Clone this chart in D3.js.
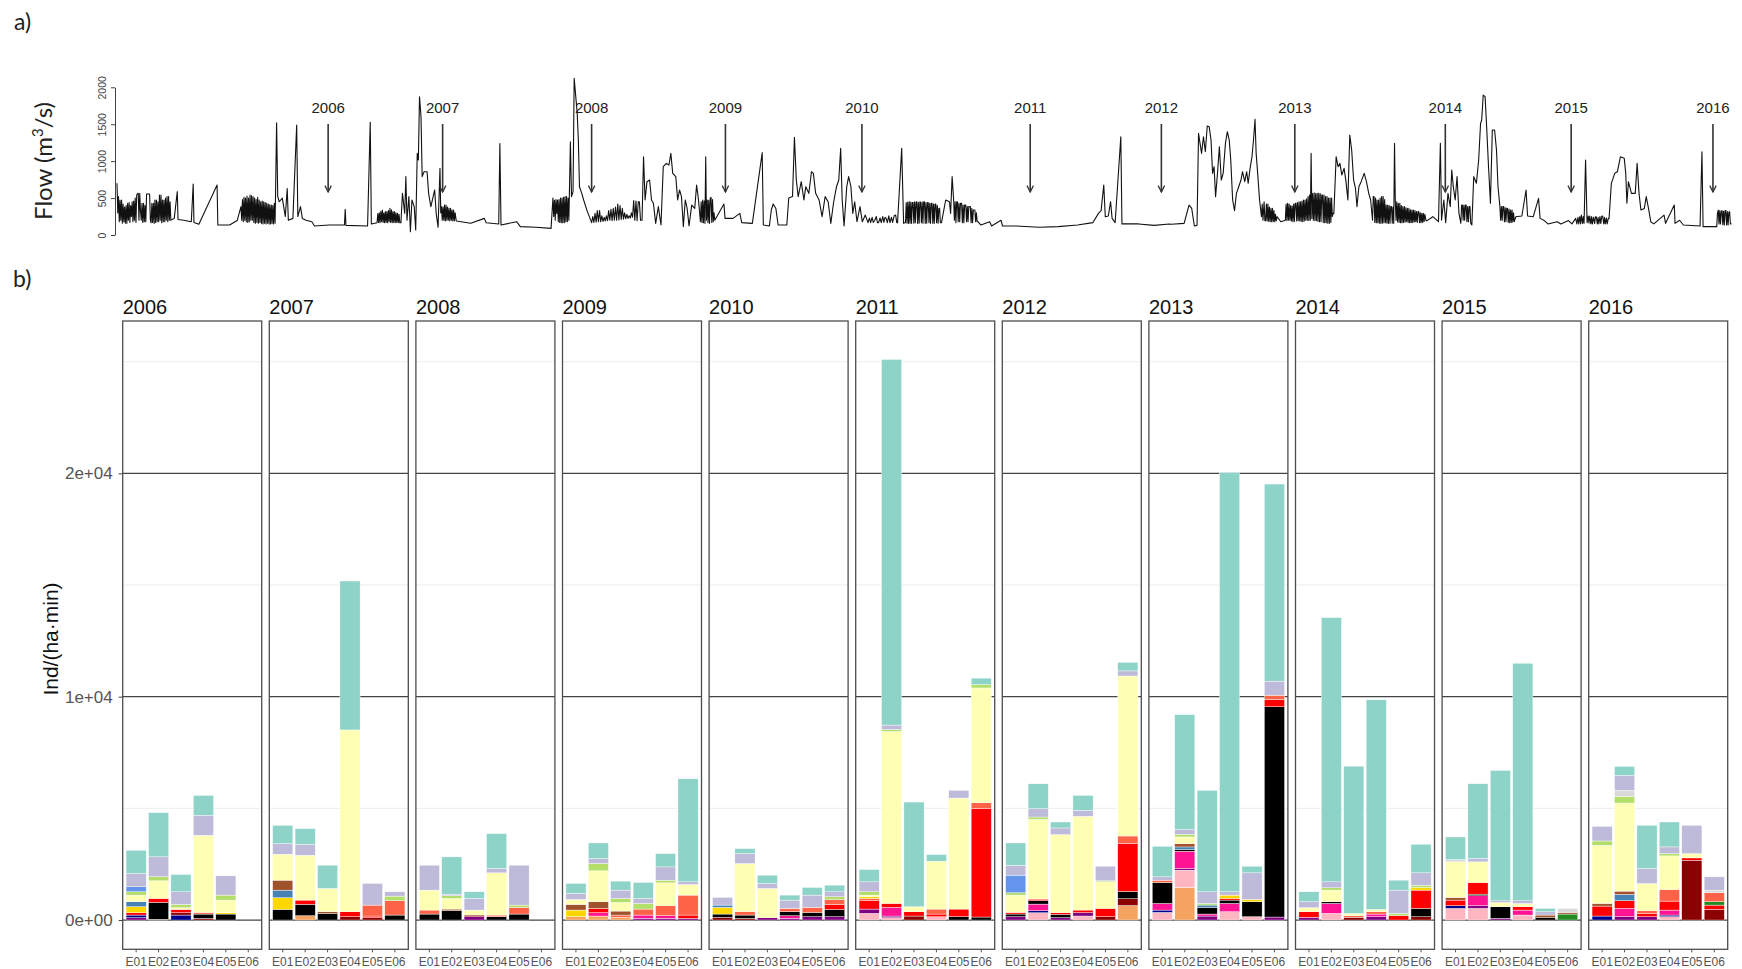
<!DOCTYPE html>
<html>
<head>
<meta charset="utf-8">
<script src="https://cdn.jsdelivr.net/npm/d3@7"></script>
<style>
body { margin: 0; background: #fff; }
svg { display: block; font-family: "Liberation Sans", Arial, sans-serif; }
</style>
</head>
<body>
<svg id="chart" width="1742" height="969"></svg>
<script>
// ---- data ----
var years = ["2006", "2007", "2008", "2009", "2010", "2011", "2012", "2013", "2014", "2015", "2016"];
var stations = ["E01", "E02", "E03", "E04", "E05", "E06"];

// stacking order, top of the bar first
var speciesOrder = ["tq", "lv", "gy", "cb", "lg", "yl", "br", "sb", "gd", "sl", "gn", "rd", "bk", "dr", "dp", "nv", "pu", "pk", "sa"];
var speciesColor = {
    tq: "#8DD3C7", lv: "#BEBADA", gy: "#D9D9D9", cb: "#6495ED", lg: "#B3DE69", yl: "#FFFFB3",
    br: "#A0522D", sb: "#4682B4", gd: "#FFD700", sl: "#FF6347", gn: "#228B22", rd: "#FF0000",
    bk: "#000000", dr: "#8B0000", dp: "#FF1493", nv: "#00008B", pu: "#800080", pk: "#FFB6C1", sa: "#F4A460"
};

// Ind/(ha·min), one object per station E01..E06
var abundance2006 = [
    {tq: 1042, lv: 595, cb: 223, lg: 149, yl: 298, sb: 223, gd: 268, rd: 104, nv: 119, pu: 104},
    {tq: 1979, lv: 893, lg: 179, yl: 789, rd: 179, bk: 759, sa: 30},
    {tq: 774, lv: 565, lg: 149, yl: 74, rd: 149, dr: 104, nv: 223},
    {tq: 893, lv: 893, yl: 3452, sl: 74, bk: 193, dr: 74},
    {lv: 863, lg: 223, yl: 565, gd: 60, bk: 268},
    {}
];
var abundance2007 = [
    {tq: 818, lv: 476, yl: 1161, br: 446, sb: 342, gd: 521, bk: 476},
    {tq: 699, lv: 491, yl: 2009, rd: 193, bk: 506, sa: 194},
    {tq: 1042, yl: 1042, br: 74, bk: 298},
    {tq: 6667, yl: 8140, rd: 223, dr: 149},
    {lv: 967, sl: 491, rd: 74, dr: 104},
    {lv: 193, lg: 208, sl: 640, bk: 223}
];
var abundance2008 = [
    {lv: 1116, yl: 893, sl: 179, bk: 268},
    {tq: 1667, lv: 74, lg: 119, yl: 476, br: 74, bk: 417},
    {tq: 298, lv: 521, yl: 223, dr: 74, pu: 149},
    {tq: 1562, lv: 193, yl: 1890, sl: 74, bk: 149},
    {lv: 1786, lg: 104, sl: 298, bk: 268},
    {}
];
var abundance2009 = [
    {tq: 446, lv: 268, yl: 223, br: 253, gd: 298, sa: 149},
    {tq: 699, lv: 223, lg: 327, yl: 1384, br: 298, rd: 193, dp: 149, sa: 179},
    {tq: 402, lv: 372, lg: 179, yl: 387, br: 179, sl: 104, sa: 119},
    {tq: 714, lv: 223, lg: 253, sl: 268, dp: 149, pu: 74},
    {tq: 595, lv: 595, lg: 119, yl: 1027, sl: 446, dp: 119, pu: 74},
    {tq: 4613, lv: 119, yl: 476, sl: 893, rd: 149, pu: 74}
];
var abundance2010 = [
    {lv: 342, sb: 104, gd: 298, bk: 149, dr: 119},
    {tq: 223, lv: 446, yl: 2158, sl: 149, bk: 149, dr: 74},
    {tq: 372, lv: 223, yl: 1309, pu: 104},
    {tq: 223, lv: 372, sl: 149, bk: 179, dp: 119, pu: 74},
    {tq: 342, lv: 551, sl: 223, bk: 193, pu: 149},
    {tq: 298, lv: 223, lg: 119, sl: 223, rd: 223, bk: 327, pu: 149}
];
var abundance2011 = [
    {tq: 551, lv: 446, lg: 149, yl: 74, gd: 74, sl: 104, rd: 372, pu: 193, pk: 298},
    {tq: 16371, lv: 200, lg: 87, yl: 7698, rd: 179, dp: 387, pu: 74, pk: 104},
    {tq: 4687, yl: 223, rd: 193, dr: 179},
    {tq: 298, yl: 2143, sl: 223, rd: 119, pk: 149},
    {lv: 342, yl: 4970, rd: 342, bk: 149},
    {tq: 287, lg: 153, yl: 5138, sl: 248, rd: 4871, bk: 134}
];
var abundance2012 = [
    {tq: 997, lv: 446, cb: 789, lg: 104, yl: 774, rd: 74, bk: 119, pu: 149},
    {tq: 1116, lv: 372, lg: 104, yl: 3571, rd: 74, bk: 149, dp: 298, nv: 89, pk: 327},
    {tq: 268, lv: 298, yl: 3497, rd: 74, bk: 149, pu: 104},
    {tq: 670, lv: 268, yl: 4196, rd: 119, pu: 149, pk: 179},
    {lv: 655, lg: 45, yl: 1190, rd: 372, dr: 149},
    {tq: 382, lv: 229, yl: 7163, sl: 325, rd: 2158, bk: 325, dr: 306, sa: 649}
];
var abundance2013 = [
    {tq: 1369, lv: 149, sl: 104, bk: 937, dp: 298, nv: 104, pk: 342},
    {tq: 5148, lv: 208, lg: 119, yl: 298, br: 149, sb: 119, bk: 74, dp: 774, pu: 74, pk: 774, sa: 1458},
    {tq: 4538, lv: 521, lg: 74, sb: 104, bk: 298, dp: 89, pu: 179},
    {tq: 18771, lv: 149, gd: 149, rd: 74, bk: 149, dp: 372, pk: 372},
    {tq: 298, lv: 1190, gd: 104, bk: 670, pk: 149},
    {tq: 8824, lv: 630, sl: 191, rd: 325, bk: 9416, pu: 134}
];
var abundance2014 = [
    {tq: 446, lv: 268, yl: 179, rd: 253, pu: 119},
    {tq: 11831, lv: 268, lg: 104, yl: 521, bk: 74, dp: 446, pk: 298},
    {tq: 6593, yl: 104, sl: 74, dr: 119},
    {tq: 9384, yl: 104, sl: 104, dp: 119, pu: 149},
    {tq: 446, lv: 1042, lg: 104, rd: 193},
    {tq: 1280, lv: 551, lg: 104, gd: 119, rd: 818, bk: 372, dr: 149}
];
var abundance2015 = [
    {tq: 1012, gy: 104, yl: 1592, br: 119, rd: 253, nv: 119, pk: 521},
    {tq: 3348, lv: 149, yl: 923, rd: 521, bk: 74, dp: 446, pu: 119, pk: 521},
    {tq: 5833, lv: 74, yl: 193, bk: 521, pu: 74},
    {tq: 10635, lv: 119, yl: 149, rd: 149, dp: 223, pk: 223},
    {tq: 150, lv: 148, br: 119, bk: 104},
    {gy: 179, br: 74, gn: 268}
];
var abundance2016 = [
    {lv: 655, lg: 193, yl: 2604, br: 119, rd: 446, nv: 179},
    {tq: 402, lv: 670, gy: 268, lg: 298, yl: 3943, br: 149, sb: 283, rd: 342, dp: 372, pu: 149},
    {tq: 1934, lv: 670, yl: 1220, sl: 119, rd: 149, pu: 149},
    {tq: 1116, lv: 298, lg: 104, yl: 1503, sl: 521, rd: 402, dp: 223, nv: 74, pk: 149},
    {lv: 1265, yl: 193, rd: 104, dr: 2678},
    {lv: 595, gy: 119, sl: 402, gn: 149, rd: 193, dr: 476}
];
var abundanceByYear = {
    "2006": abundance2006, "2007": abundance2007, "2008": abundance2008, "2009": abundance2009,
    "2010": abundance2010, "2011": abundance2011, "2012": abundance2012, "2013": abundance2013,
    "2014": abundance2014, "2015": abundance2015, "2016": abundance2016
};
var abundanceTicks = [0, 10000, 20000];
var abundanceMinor = [5000, 15000, 25000];

// river flow, [day of record, m3/s]
var flowRecord = [
    [0,700],[2,300],[4,520],[6,180],[8,470],[10,200],[12,474],[14,160],[16,420],[18,180],[20,380],[22,160],[24,400],[26,158],[28,430],[30,200],[32,440],[34,170],[36,400],[38,250],[40,450],[42,180],[44,460],[46,200],[48,500],[50,170],[52,540],[54,560],[56,565],[58,200],[60,565],[62,330],[64,200],[66,430],[68,170],[70,430],[72,180],[74,400],[76,180],[78,555],[80,555],[82,555],[84,555],[86,555],[88,200],[90,165],[92,430],[94,170],[96,430],[98,158],[100,474],[102,170],[104,474],[106,180],[108,450],[110,180],[112,540],[114,200],[116,540],[118,165],[120,474],[122,180],[124,474],[126,180],[128,500],[130,200],[132,520],[134,180],[136,520],[138,200],[140,450],[142,200],
    [151,225],[159,587],[161,210],[176,200],[196,180],[201,690],[203,170],[216,145],[264,677],[266,135],[297,135],[317,195],
    [327,384],[329,200],[331,480],[333,180],[335,510],[337,200],[339,500],[341,180],[343,528],[345,170],[347,500],[349,180],[351,540],[353,200],[355,530],[357,200],[359,520],[361,170],[363,500],[365,158],[367,480],[369,170],[371,510],[373,160],[375,474],[377,170],[379,450],[381,158],[383,460],[385,150],[387,450],[389,160],[391,440],[393,150],[395,430],[397,160],[399,420],[401,150],[403,410],[405,150],[407,405],[409,155],[411,400],[413,150],[415,430],[417,160],[418,474],
    [421,1520],[424,520],[428,450],[436,500],[444,250],[449,630],[452,200],[464,225],[474,1490],[477,250],[484,384],[489,225],[499,200],[514,180],[521,122],[560,135],[600,135],[602,347],[604,130],[661,122],[668,1525],[671,150],
    [686,165],[688,290],[690,170],[692,300],[694,165],[696,320],[698,180],[700,338],[702,170],[704,300],[706,165],[708,316],[710,170],[712,316],[714,165],[716,330],[718,180],[720,360],[722,170],[724,340],[726,165],[728,316],[730,170],[732,316],[734,165],[736,300],[738,170],[740,293],[742,165],[744,280],[746,165],[749,165],
    [753,565],[759,293],[762,790],[765,200],[770,520],[774,45],[778,474],[784,384],[788,68],[792,1105],[795,1015],[798,1873],[802,1600],[805,790],[810,857],[818,857],[822,564],[828,384],[834,520],[838,610],[842,293],[847,104],
    [852,903],[854,300],[856,384],[858,200],[860,380],[862,200],[864,405],[866,190],[868,405],[870,200],[872,380],[874,200],[876,360],[878,190],[880,360],[882,200],[884,338],[886,190],[888,338],[890,190],[892,300],[895,190],
    [933,158],[969,225],[974,165],[1007,150],[1010,1240],[1013,135],[1054,180],[1064,113],[1105,104],[1145,90],
    [1150,500],[1152,250],[1154,470],[1156,200],[1158,480],[1160,293],[1162,474],[1164,180],[1166,480],[1168,170],[1170,500],[1172,165],[1174,500],[1176,165],[1178,510],[1180,165],[1182,520],[1184,180],[1186,520],[1188,180],[1190,500],[1192,200],
    [1196,1263],[1199,520],[1203,587],[1206,2121],[1211,1828],[1214,1647],[1217,1286],[1220,654],[1226,564],[1231,474],[1240,330],
    [1252,167],[1255,250],[1258,170],[1261,293],[1264,175],[1267,330],[1270,180],[1273,330],[1276,180],[1279,260],[1282,185],[1285,240],[1288,190],[1291,260],[1294,195],[1297,330],[1300,200],[1303,347],[1306,195],[1309,360],[1312,200],[1315,380],[1318,200],[1321,420],[1324,205],[1327,400],[1330,210],[1333,360],[1336,215],[1339,300],[1342,220],[1345,280],[1348,225],[1351,260],[1354,230],[1357,300],[1360,240],[1363,465],[1366,200],[1369,460],[1372,195],[1375,450],[1378,450],[1381,200],[1385,200],
    [1389,1060],[1393,474],[1398,722],[1405,745],[1410,474],[1415,430],[1421,158],[1428,384],[1435,135],[1441,925],[1449,970],[1456,948],[1461,1105],[1466,835],[1474,790],[1479,474],[1484,610],[1489,520],[1494,113],[1499,474],[1504,360],[1509,122],[1516,405],[1524,360],[1529,677],[1534,474],
    [1539,180],[1541,450],[1543,170],[1545,474],[1547,165],[1549,460],[1551,158],[1553,1060],[1555,200],[1557,474],[1559,165],[1561,470],[1563,158],[1565,500],[1567,510],[1569,170],[1571,480],[1573,180],[1575,300],[1577,200],
    [1601,420],[1604,225],[1625,225],[1643,293],[1648,167],[1676,158],[1702,1115],[1705,135],[1721,122],[1726,338],[1731,420],[1738,360],[1744,135],[1767,135],[1772,500],[1782,520],[1787,1322],[1792,745],[1797,520],[1805,722],[1812,474],[1817,654],[1825,564],[1832,857],[1837,835],[1843,564],[1852,474],[1860,248],[1868,520],[1876,450],[1883,158],[1890,430],[1898,654],[1904,745],[1909,1173],[1913,474],[1918,122],[1925,654],[1930,790],[1936,654],[1941,293],[1946,450],[1952,180],[1960,384],[1966,180],[1974,270],
    [1981,167],[1985,230],[1988,167],[1992,240],[1995,170],[1999,200],[2003,250],[2006,167],[2009,167],[2013,230],[2016,167],[2020,250],[2023,170],[2026,240],[2029,225],[2032,167],[2036,260],[2039,167],[2043,240],[2046,170],[2050,260],[2054,270],[2057,167],[2059,167],
    [2070,1173],[2075,158],
    [2080,170],[2082,438],[2084,160],[2086,445],[2088,158],[2090,451],[2092,160],[2094,445],[2096,158],[2098,440],[2100,438],[2102,160],[2104,451],[2106,165],[2108,445],[2110,451],[2112,158],[2114,440],[2116,160],[2118,451],[2120,438],[2122,165],[2124,445],[2126,160],[2128,451],[2130,451],[2132,158],[2134,440],[2136,160],[2138,438],[2140,438],[2142,165],[2144,430],[2146,160],[2148,430],[2150,430],[2152,158],[2154,420],[2156,160],[2158,420],[2160,420],[2162,165],[2164,400],[2166,160],[2168,360],[2170,360],[2172,167],[2175,167],
    [2186,474],[2196,451],[2199,293],[2203,790],
    [2207,474],[2209,200],[2211,451],[2213,167],[2215,451],[2217,451],[2219,180],[2221,430],[2223,180],[2225,430],[2228,430],[2230,167],[2232,405],[2234,167],[2236,405],[2239,405],[2241,180],[2243,384],[2245,180],[2247,384],[2251,384],[2253,167],[2255,360],[2257,167],[2259,338],[2263,338],[2265,180],[2267,300],[2269,180],[2271,180],
    [2279,135],[2302,180],[2307,122],[2332,200],[2336,122],[2372,122],[2433,104],[2483,113],[2534,135],[2574,167],[2589,293],[2596,330],[2603,677],[2607,248],[2615,257],[2621,451],[2625,225],[2633,167],[2648,1331],[2651,150],[2695,150],[2736,130],[2776,150],
    [2781,145],[2815,158],[2822,293],[2828,405],[2835,360],[2842,122],[2849,130],[2853,1376],[2857,1241],[2861,1105],[2866,1331],[2871,1128],[2876,1476],[2881,1467],[2886,1286],[2890,835],[2894,925],[2898,520],[2903,835],[2908,1196],[2913,745],[2918,835],[2924,1241],[2929,1399],[2934,1286],[2938,1015],[2943,474],[2948,330],[2953,564],[2959,654],[2965,745],[2969,857],[2975,722],[2980,857],[2984,700],[2989,903],[2994,1060],[2998,1286],[3002,1566],[3005,1105],[3009,835],[3014,474],
    [3019,248],[3021,420],[3023,200],[3026,451],[3028,195],[3030,195],[3032,420],[3034,190],[3036,420],[3038,185],[3040,380],[3042,180],[3044,360],[3046,180],[3048,360],[3050,180],[3052,330],[3054,180],[3056,280],[3058,190],[3060,248],
    [3070,180],
    [3082,200],[3084,420],[3086,195],[3088,430],[3090,200],[3092,420],[3094,200],[3096,400],[3098,190],[3100,393],[3102,180],[3104,420],[3106,185],[3108,430],[3110,430],[3112,190],[3114,440],[3116,195],[3118,451],[3120,190],[3122,451],[3124,185],[3126,460],[3128,180],[3130,474],[3132,190],[3134,474],[3136,200],[3138,490],[3140,200],[3142,520],[3144,195],[3146,540],[3148,200],[3150,1105],[3152,225],[3154,560],[3156,200],[3158,573],[3160,195],[3162,560],[3164,195],[3166,564],[3168,185],[3170,564],[3172,180],[3174,560],[3176,180],[3178,540],[3180,540],[3182,170],[3184,540],[3186,167],[3188,520],[3190,165],[3192,520],[3194,160],[3196,500],[3198,158],[3200,500],[3202,170],[3204,500],[3206,250],[3208,293],[3210,293],
    [3216,1060],[3221,925],[3226,970],[3231,812],[3237,903],[3242,722],[3247,474],[3252,1354],[3257,1150],[3262,745],[3267,632],[3271,384],[3276,654],[3282,722],[3290,835],[3296,722],[3302,564],[3307,474],
    [3312,200],[3314,520],[3316,520],[3318,170],[3320,500],[3322,167],[3324,474],[3326,165],[3328,474],[3330,160],[3332,500],[3334,158],[3336,520],[3338,160],[3340,520],[3342,165],[3344,480],[3346,167],[3348,405],[3350,160],[3352,405],[3354,158],[3356,400],[3358,158],[3360,384],[3362,384],[3364,160],[3366,380],[3368,158],[3370,1241],[3372,474],[3374,200],[3376,450],[3378,180],[3380,430],[3382,170],[3384,430],[3386,167],[3388,400],[3390,167],[3392,384],[3394,170],[3396,384],[3398,175],[3400,370],[3402,180],[3404,360],[3406,170],[3408,360],[3410,167],[3412,340],[3414,167],[3416,338],[3418,170],[3420,338],[3422,175],[3424,330],[3426,180],[3428,316],[3430,170],[3432,316],[3434,316],[3436,167],[3438,300],[3440,167],[3442,293],[3444,170],[3446,293],[3448,180],[3450,280],[3453,195],[3456,195],
    [3471,248],[3486,180],[3491,1241],[3494,200],[3500,474],[3505,167],[3511,564],[3517,384],[3521,880],[3525,654],[3530,474],[3535,790],[3540,293],
    [3545,158],[3547,405],[3549,405],[3551,200],[3553,405],[3555,200],[3557,405],[3559,405],[3561,180],[3563,384],[3565,180],[3567,384],[3569,384],[3571,160],[3574,135],
    [3579,790],[3586,700],[3592,1015],[3597,1512],[3600,1557],[3604,1895],[3609,1873],[3613,1467],[3618,925],[3623,430],[3628,1421],[3634,1421],[3639,1150],[3643,654],
    [3648,384],[3650,200],[3652,384],[3654,200],[3656,384],[3658,384],[3660,180],[3662,370],[3664,180],[3666,360],[3668,360],[3670,170],[3672,350],[3674,167],[3676,338],[3678,170],[3680,338],[3682,175],[3684,300],[3686,180],[3690,248],
    [3706,257],[3717,609],[3721,257],[3736,248],[3750,496],[3754,225],[3765,195],[3775,150],[3799,180],[3809,150],[3829,195],[3838,150],
    [3848,225],[3851,150],[3854,240],[3856,150],[3859,250],[3861,150],[3863,270],[3866,158],[3868,250],[3870,158],[3874,1015],[3878,167],[3881,257],[3883,160],[3885,257],[3888,150],[3890,250],[3892,150],[3895,240],[3898,155],[3900,248],[3902,248],[3905,150],[3907,240],[3909,150],[3912,250],[3914,155],[3917,257],[3919,257],[3922,150],[3924,240],[3926,150],[3929,230],[3931,150],[3934,225],[3936,225],
    [3942,700],[3951,835],[3958,857],[3966,1060],[3976,1038],[3980,835],[3983,430],[3987,722],[3995,564],[4005,564],[4010,970],[4015,564],[4020,338],[4029,360],[4034,520],[4040,360],[4046,180],[4054,150],[4081,270],[4085,158],[4108,405],[4110,158],[4122,200],[4132,135],[4176,122],[4181,1128],[4184,113],
    [4220,113],[4222,300],[4224,338],[4226,150],[4228,330],[4230,150],[4232,320],[4234,330],[4236,140],[4238,320],[4240,135],[4242,330],[4244,330],[4246,135],[4248,316],[4250,135],[4252,310],[4254,316],[4256,150],[4259,150]
];
// sampling campaigns marked with arrows
var campaignYears = ["2006", "2007", "2008", "2009", "2010", "2011", "2012", "2013", "2014", "2015", "2016"];
var campaignDays = [557, 859, 1252, 1605, 1965, 2409, 2755, 3107, 3504, 3836, 4210];
var flowTicks = [0, 500, 1000, 1500, 2000];

var svg = d3.select("#chart");

// ---- a) flow ----
var fx = d3.scaleLinear().domain([0, 4260]).range([117, 1731.9]);
var fy = d3.scaleLinear().domain([0, 2000]).range([235, 87.3]);

svg.append("text").attr("x", 14).attr("y", 30)
    .style("font-family", "Lato, 'Open Sans', sans-serif").style("font-size", "23px").attr("fill", "#222")
    .text("a)");

var flowAxis = svg.append("g")
    .attr("transform", "translate(115,0)")
    .call(d3.axisLeft(fy).tickValues(flowTicks).tickFormat(d3.format("d")).tickSize(4).tickSizeOuter(0));
flowAxis.select(".domain").attr("stroke", "#444");
flowAxis.selectAll(".tick line").attr("stroke", "#444");
flowAxis.selectAll(".tick text")
    .attr("transform", "rotate(-90)")
    .attr("x", 0).attr("y", -9).attr("dy", 0)
    .attr("text-anchor", "middle")
    .attr("fill", "#444")
    .style("font-size", "10.5px");

var flowTitle = svg.append("text")
    .attr("transform", "translate(52,161) rotate(-90)")
    .attr("text-anchor", "middle")
    .style("font-family", "Lato, 'Open Sans', sans-serif").style("font-size", "24px").attr("fill", "#222");
flowTitle.append("tspan").text("Flow (m");
flowTitle.append("tspan").attr("dy", -9).style("font-size", "15px").text("3");
flowTitle.append("tspan").attr("dy", 9).text("/s)");

svg.append("path")
    .datum(flowRecord)
    .attr("fill", "none")
    .attr("stroke", "#111")
    .attr("stroke-width", 1.1)
    .attr("stroke-linejoin", "round")
    .attr("d", d3.line().x(function(d) { return fx(d[0]); }).y(function(d) { return fy(d[1]); }));

var defs = svg.append("defs");
defs.append("marker")
    .attr("id", "head")
    .attr("viewBox", "0 0 10 10")
    .attr("refX", 9).attr("refY", 5)
    .attr("markerWidth", 8).attr("markerHeight", 8)
    .attr("markerUnits", "userSpaceOnUse")
    .attr("orient", "auto")
  .append("path")
    .attr("d", "M1,1 L9,5 L1,9")
    .attr("fill", "none")
    .attr("stroke", "#333")
    .attr("stroke-width", 1.6);

var campaigns = svg.append("g").selectAll("g")
    .data(campaignDays)
    .enter().append("g");
campaigns.append("line")
    .attr("x1", function(d) { return fx(d); })
    .attr("x2", function(d) { return fx(d); })
    .attr("y1", 124).attr("y2", 192)
    .attr("stroke", "#333").attr("stroke-width", 1.6)
    .attr("marker-end", "url(#head)");
campaigns.append("text")
    .attr("x", function(d) { return fx(d); })
    .attr("y", 113)
    .attr("text-anchor", "middle")
    .attr("fill", "#222")
    .style("font-size", "15px")
    .text(function(d, i) { return campaignYears[i]; });

// ---- b) abundance ----
svg.append("text").attr("x", 13).attr("y", 287)
    .style("font-family", "Lato, 'Open Sans', sans-serif").style("font-size", "23px").attr("fill", "#222")
    .text("b)");

var px = d3.scaleBand().domain(years).range([122.7, 1727.7]).paddingInner(0.0518).paddingOuter(0);
var sx = d3.scaleBand().domain(stations).range([0, px.bandwidth()]).paddingInner(0.1).paddingOuter(0.15);
var y = d3.scaleLinear().domain([-1310, 26820]).range([949.3, 321]);

function sci(v) {
    var parts = v.toExponential(0).split("e");
    var e = +parts[1];
    return parts[0] + "e" + (e < 0 ? "-" : "+") + (Math.abs(e) < 10 ? "0" : "") + Math.abs(e);
}

var rows = [];
years.forEach(function(yr) {
    abundanceByYear[yr].forEach(function(vals, i) {
        var row = {year: yr, station: stations[i]};
        speciesOrder.forEach(function(k) { row[k] = vals[k] || 0; });
        rows.push(row);
    });
});
var stacked = d3.stack().keys(speciesOrder.slice().reverse())(rows);

var panels = svg.append("g").selectAll("g.panel")
    .data(years)
    .enter().append("g")
    .attr("class", "panel")
    .attr("transform", function(d) { return "translate(" + px(d) + ",0)"; });

panels.selectAll("line.minor")
    .data(abundanceMinor)
    .enter().append("line")
    .attr("x1", 0).attr("x2", px.bandwidth())
    .attr("y1", function(d) { return y(d); }).attr("y2", function(d) { return y(d); })
    .attr("stroke", "#ebebeb").attr("stroke-width", 0.9);

panels.selectAll("line.major")
    .data(abundanceTicks)
    .enter().append("line")
    .attr("x1", 0).attr("x2", px.bandwidth())
    .attr("y1", function(d) { return y(d); }).attr("y2", function(d) { return y(d); })
    .attr("stroke", "#444").attr("stroke-width", 1.3);

var layers = svg.append("g").selectAll("g")
    .data(stacked)
    .enter().append("g")
    .attr("fill", function(d) { return speciesColor[d.key]; });
layers.selectAll("rect")
    .data(function(d) { return d.filter(function(s) { return s[1] - s[0] > 0; }); })
    .enter().append("rect")
    .attr("x", function(d) { return px(d.data.year) + sx(d.data.station); })
    .attr("width", sx.bandwidth())
    .attr("y", function(d) { return y(d[1]); })
    .attr("height", function(d) { return y(d[0]) - y(d[1]); })
    .attr("stroke", "#fff")
    .attr("stroke-width", 0.4);

panels.append("rect")
    .attr("x", 0).attr("y", 321)
    .attr("width", px.bandwidth()).attr("height", 949.3 - 321)
    .attr("fill", "none")
    .attr("stroke", "#4d4d4d")
    .attr("stroke-width", 1.3);

panels.append("text")
    .attr("x", 0).attr("y", 314)
    .attr("fill", "#111")
    .style("font-size", "20px")
    .text(function(d) { return d; });

panels.each(function() {
    var g = d3.select(this).append("g").attr("transform", "translate(0,949.3)");
    g.call(d3.axisBottom(sx).tickSize(3).tickSizeOuter(0));
    g.select(".domain").remove();
    g.selectAll(".tick line").attr("stroke", "#555");
    g.selectAll(".tick text")
        .attr("y", 8).attr("dy", "0.71em")
        .attr("fill", "#555")
        .style("font-size", "12px");
});

var yAxis = svg.append("g")
    .attr("transform", "translate(122.7,0)")
    .call(d3.axisLeft(y).tickValues(abundanceTicks).tickFormat(sci).tickSize(4).tickPadding(6));
yAxis.select(".domain").remove();
yAxis.selectAll(".tick line").attr("stroke", "#444");
yAxis.selectAll(".tick text").attr("fill", "#555").style("font-size", "17px");

svg.append("text")
    .attr("transform", "translate(58,639) rotate(-90)")
    .attr("text-anchor", "middle")
    .attr("fill", "#111")
    .style("font-size", "21px")
    .text("Ind/(ha·min)");
</script>
</body>
</html>
